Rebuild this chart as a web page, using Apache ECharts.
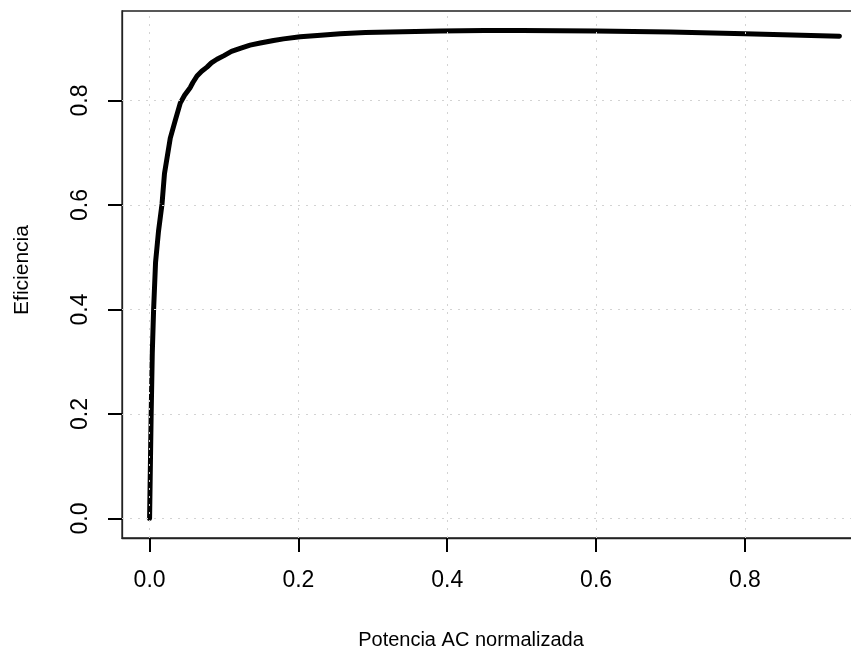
<!DOCTYPE html>
<html>
<head>
<meta charset="utf-8">
<script src="https://cdn.jsdelivr.net/npm/echarts@6/dist/echarts.min.js"></script>
<style>
html,body{margin:0;padding:0;background:#fff;}
#chart{width:851px;height:650px;}
</style>
</head>
<body>
<div id="chart"></div>
<script>
// Normalized AC power (x) and inverter efficiency (y)
const potenciaAC = [0, 0.002, 0.0036, 0.0054, 0.008, 0.012, 0.0167, 0.02, 0.0278, 0.0345, 0.0412, 0.047, 0.0547, 0.058, 0.0637, 0.07, 0.0771, 0.083, 0.0905, 0.1, 0.11, 0.1218, 0.135, 0.1487, 0.1666, 0.18, 0.2024, 0.23, 0.2562, 0.29, 0.3234, 0.3906, 0.45, 0.5, 0.6, 0.7, 0.8, 0.927];
const eficiencia = [0, 0.19, 0.316, 0.40, 0.49, 0.55, 0.602, 0.66, 0.728, 0.762, 0.795, 0.81, 0.825, 0.834, 0.847, 0.856, 0.864, 0.872, 0.879, 0.886, 0.894, 0.900, 0.906, 0.910, 0.915, 0.918, 0.922, 0.925, 0.928, 0.930, 0.931, 0.933, 0.934, 0.934, 0.933, 0.931, 0.928, 0.923];
const xTicks = [0, 0.2, 0.4, 0.6, 0.8];
const yTicks = [0, 0.2, 0.4, 0.6, 0.8];
const xTitle = 'Potencia AC normalizada';
const yTitle = 'Eficiencia';

const FONT = 'Liberation Sans, Arial, Helvetica, sans-serif';
const chart = echarts.init(document.getElementById('chart'), null, {renderer: 'canvas'});

const data = potenciaAC.map((x, i) => [x, eficiencia[i]]);
const xMax = potenciaAC[potenciaAC.length - 1];
const yMax = Math.max(...eficiencia);
const xMin = -0.04 * xMax, xLim = 1.04 * xMax;
const yMin = -0.04 * yMax, yLim = 1.04 * yMax;

const gridStyle = {color: '#d3d3d3', width: 1, type: [2, 6]};
const gridLines = [
  ...xTicks.map(v => ({xAxis: v})),
  ...yTicks.map(v => ({yAxis: v}))
];
const axisLineStyle = {color: '#222', width: 1.3};
const tickStyle = {color: '#000', width: 2};
const TICK = 14;

chart.setOption({
  animation: false,
  backgroundColor: '#fff',
  textStyle: {fontFamily: FONT},
  grid: {
    left: 122, top: 11, width: 745, height: 527,
    outerBoundsMode: 'none', containLabel: false,
    show: true, borderColor: '#222', borderWidth: 1.3, backgroundColor: 'transparent'
  },
  xAxis: {
    type: 'value', min: xMin, max: xLim,
    axisLine: {show: true, onZero: false, lineStyle: axisLineStyle},
    axisTick: {show: true, inside: false, customValues: xTicks, length: TICK, lineStyle: tickStyle},
    axisLabel: {customValues: xTicks, margin: 31, fontSize: 23, color: '#000', fontFamily: FONT, formatter: v => v.toFixed(1)},
    splitLine: {show: false}
  },
  yAxis: {
    type: 'value', min: yMin, max: yLim,
    axisLine: {show: true, onZero: false, lineStyle: axisLineStyle},
    axisTick: {show: true, inside: false, customValues: yTicks, length: TICK, lineStyle: tickStyle},
    axisLabel: {customValues: yTicks, margin: 30, fontSize: 23, color: '#000', fontFamily: FONT, rotate: 90, formatter: v => v.toFixed(1)},
    splitLine: {show: false}
  },
  graphic: [
    {type: 'text', x: 471, y: 640, silent: true,
     style: {text: xTitle, font: '20px ' + FONT, fill: '#000', align: 'center', verticalAlign: 'middle'}},
    {type: 'text', x: 22, y: 270, rotation: Math.PI / 2, silent: true,
     style: {text: yTitle, font: '21px ' + FONT, fill: '#000', align: 'center', verticalAlign: 'middle'}}
  ],
  series: [
    {type: 'line', data: [], z: 1, silent: true,
     markLine: {silent: true, symbol: 'none', label: {show: false}, lineStyle: gridStyle, data: gridLines, animation: false}},
    {type: 'line', data: data, z: 2, showSymbol: false, symbol: 'none', smooth: false,
     lineStyle: {color: '#000', width: 5, cap: 'round', join: 'round'}}
  ]
});
</script>
</body>
</html>
